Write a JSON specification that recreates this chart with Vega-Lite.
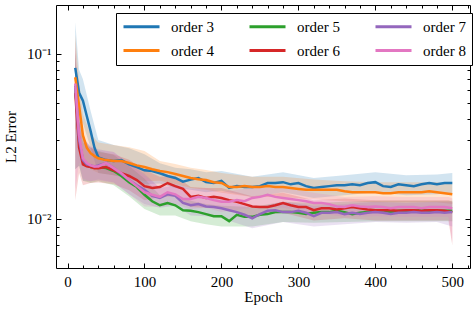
{
  "$schema": "https://vega.github.io/schema/vega-lite/v6.json",
  "width": 476,
  "height": 311,
  "autosize": {"type": "fit", "contains": "padding"},
  "padding": {"left": 3, "top": 4, "right": 5, "bottom": 7},
  "config": {
    "view": {"stroke": "black", "strokeWidth": 1},
    "font": "Liberation Serif",
    "axis": {"labelFont": "Liberation Serif", "titleFont": "Liberation Serif", "labelFontSize": 15, "titleFontSize": 15, "titleFontWeight": "normal", "labelColor": "black", "titleColor": "black", "domain": false, "tickColor": "black", "tickWidth": 1, "grid": false, "labelOverlap": false, "labelFlush": false},
    "legend": {"labelFont": "Liberation Serif", "labelFontSize": 15, "labelColor": "black", "labelFontWeight": "normal", "labelLimit": 0}
  },
  "datasets": {
    "bands": [
      {"e":10,"s":"order 3","lo":0.045,"hi":0.155},{"e":15,"s":"order 3","lo":0.040,"hi":0.080},{"e":20,"s":"order 3","lo":0.038,"hi":0.070},{"e":30,"s":"order 3","lo":0.027,"hi":0.045},{"e":40,"s":"order 3","lo":0.019,"hi":0.030},{"e":60,"s":"order 3","lo":0.0184,"hi":0.028},{"e":80,"s":"order 3","lo":0.0175,"hi":0.0268},{"e":100,"s":"order 3","lo":0.0162,"hi":0.0246},{"e":120,"s":"order 3","lo":0.0164,"hi":0.0217},{"e":140,"s":"order 3","lo":0.0154,"hi":0.0204},{"e":160,"s":"order 3","lo":0.015,"hi":0.020},{"e":180,"s":"order 3","lo":0.0145,"hi":0.0192},{"e":200,"s":"order 3","lo":0.0148,"hi":0.0195},{"e":240,"s":"order 3","lo":0.0136,"hi":0.018},{"e":280,"s":"order 3","lo":0.0145,"hi":0.0192},{"e":320,"s":"order 3","lo":0.0134,"hi":0.0177},{"e":360,"s":"order 3","lo":0.0139,"hi":0.0184},{"e":400,"s":"order 3","lo":0.0145,"hi":0.0192},{"e":440,"s":"order 3","lo":0.0139,"hi":0.0184},{"e":480,"s":"order 3","lo":0.0141,"hi":0.0186},{"e":500,"s":"order 3","lo":0.0143,"hi":0.019},
      {"e":10,"s":"order 4","lo":0.035,"hi":0.13},{"e":15,"s":"order 4","lo":0.034,"hi":0.068},{"e":20,"s":"order 4","lo":0.024,"hi":0.043},{"e":30,"s":"order 4","lo":0.020,"hi":0.0325},{"e":40,"s":"order 4","lo":0.019,"hi":0.029},{"e":60,"s":"order 4","lo":0.0184,"hi":0.028},{"e":80,"s":"order 4","lo":0.0179,"hi":0.0272},{"e":100,"s":"order 4","lo":0.0169,"hi":0.0258},{"e":120,"s":"order 4","lo":0.017,"hi":0.0224},{"e":140,"s":"order 4","lo":0.0163,"hi":0.0215},{"e":160,"s":"order 4","lo":0.0154,"hi":0.0204},{"e":180,"s":"order 4","lo":0.015,"hi":0.0198},{"e":200,"s":"order 4","lo":0.0144,"hi":0.019},{"e":240,"s":"order 4","lo":0.0136,"hi":0.018},{"e":280,"s":"order 4","lo":0.0136,"hi":0.018},{"e":320,"s":"order 4","lo":0.0131,"hi":0.0173},{"e":360,"s":"order 4","lo":0.0128,"hi":0.0169},{"e":400,"s":"order 4","lo":0.0126,"hi":0.0167},{"e":440,"s":"order 4","lo":0.0126,"hi":0.0167},{"e":480,"s":"order 4","lo":0.0126,"hi":0.0167},{"e":500,"s":"order 4","lo":0.0123,"hi":0.0162},
      {"e":10,"s":"order 5","lo":0.02,"hi":0.10},{"e":15,"s":"order 5","lo":0.021,"hi":0.042},{"e":20,"s":"order 5","lo":0.017,"hi":0.031},{"e":30,"s":"order 5","lo":0.0165,"hi":0.027},{"e":40,"s":"order 5","lo":0.0169,"hi":0.0258},{"e":60,"s":"order 5","lo":0.016,"hi":0.0244},{"e":80,"s":"order 5","lo":0.0137,"hi":0.0209},{"e":100,"s":"order 5","lo":0.0115,"hi":0.0175},{"e":120,"s":"order 5","lo":0.0105,"hi":0.0139},{"e":140,"s":"order 5","lo":0.0105,"hi":0.0139},{"e":160,"s":"order 5","lo":0.0097,"hi":0.0129},{"e":180,"s":"order 5","lo":0.0093,"hi":0.0123},{"e":200,"s":"order 5","lo":0.009,"hi":0.012},{"e":240,"s":"order 5","lo":0.009,"hi":0.0118},{"e":280,"s":"order 5","lo":0.0096,"hi":0.0127},{"e":320,"s":"order 5","lo":0.0095,"hi":0.0125},{"e":360,"s":"order 5","lo":0.0096,"hi":0.0127},{"e":400,"s":"order 5","lo":0.0097,"hi":0.0129},{"e":440,"s":"order 5","lo":0.0097,"hi":0.0129},{"e":480,"s":"order 5","lo":0.0097,"hi":0.0129},{"e":500,"s":"order 5","lo":0.0097,"hi":0.0129},
      {"e":10,"s":"order 6","lo":0.013,"hi":0.11},{"e":15,"s":"order 6","lo":0.019,"hi":0.038},{"e":20,"s":"order 6","lo":0.016,"hi":0.029},{"e":30,"s":"order 6","lo":0.0165,"hi":0.027},{"e":40,"s":"order 6","lo":0.0166,"hi":0.0254},{"e":60,"s":"order 6","lo":0.0162,"hi":0.0246},{"e":80,"s":"order 6","lo":0.0149,"hi":0.0228},{"e":100,"s":"order 6","lo":0.013,"hi":0.0198},{"e":120,"s":"order 6","lo":0.0136,"hi":0.018},{"e":140,"s":"order 6","lo":0.0137,"hi":0.0182},{"e":160,"s":"order 6","lo":0.0118,"hi":0.0156},{"e":180,"s":"order 6","lo":0.0117,"hi":0.0154},{"e":200,"s":"order 6","lo":0.0117,"hi":0.0154},{"e":240,"s":"order 6","lo":0.0104,"hi":0.0137},{"e":280,"s":"order 6","lo":0.0109,"hi":0.0144},{"e":320,"s":"order 6","lo":0.0098,"hi":0.013},{"e":360,"s":"order 6","lo":0.0101,"hi":0.0133},{"e":400,"s":"order 6","lo":0.0098,"hi":0.013},{"e":440,"s":"order 6","lo":0.0098,"hi":0.013},{"e":480,"s":"order 6","lo":0.0098,"hi":0.013},{"e":495,"s":"order 6","lo":0.0098,"hi":0.013},{"e":500,"s":"order 6","lo":0.0069,"hi":0.0127},
      {"e":10,"s":"order 7","lo":0.02,"hi":0.10},{"e":15,"s":"order 7","lo":0.021,"hi":0.042},{"e":20,"s":"order 7","lo":0.017,"hi":0.031},{"e":30,"s":"order 7","lo":0.0169,"hi":0.0274},{"e":40,"s":"order 7","lo":0.0173,"hi":0.0264},{"e":60,"s":"order 7","lo":0.0166,"hi":0.0254},{"e":80,"s":"order 7","lo":0.0141,"hi":0.0215},{"e":100,"s":"order 7","lo":0.0123,"hi":0.0188},{"e":120,"s":"order 7","lo":0.0117,"hi":0.0154},{"e":140,"s":"order 7","lo":0.012,"hi":0.0159},{"e":160,"s":"order 7","lo":0.0105,"hi":0.0139},{"e":180,"s":"order 7","lo":0.0104,"hi":0.0137},{"e":200,"s":"order 7","lo":0.0101,"hi":0.0133},{"e":240,"s":"order 7","lo":0.0088,"hi":0.0116},{"e":280,"s":"order 7","lo":0.0096,"hi":0.0127},{"e":320,"s":"order 7","lo":0.009,"hi":0.012},{"e":360,"s":"order 7","lo":0.0093,"hi":0.0123},{"e":400,"s":"order 7","lo":0.0096,"hi":0.0127},{"e":440,"s":"order 7","lo":0.0095,"hi":0.0125},{"e":480,"s":"order 7","lo":0.0096,"hi":0.0127},{"e":500,"s":"order 7","lo":0.009,"hi":0.0127},
      {"e":10,"s":"order 8","lo":0.015,"hi":0.12},{"e":15,"s":"order 8","lo":0.022,"hi":0.045},{"e":20,"s":"order 8","lo":0.0175,"hi":0.031},{"e":30,"s":"order 8","lo":0.0169,"hi":0.0274},{"e":40,"s":"order 8","lo":0.017,"hi":0.026},{"e":60,"s":"order 8","lo":0.0166,"hi":0.0254},{"e":80,"s":"order 8","lo":0.0141,"hi":0.0215},{"e":100,"s":"order 8","lo":0.0119,"hi":0.0181},{"e":120,"s":"order 8","lo":0.0118,"hi":0.0156},{"e":140,"s":"order 8","lo":0.0123,"hi":0.0162},{"e":160,"s":"order 8","lo":0.0115,"hi":0.0152},{"e":180,"s":"order 8","lo":0.0117,"hi":0.0154},{"e":200,"s":"order 8","lo":0.011,"hi":0.0146},{"e":240,"s":"order 8","lo":0.0117,"hi":0.0154},{"e":280,"s":"order 8","lo":0.0117,"hi":0.0154},{"e":320,"s":"order 8","lo":0.0109,"hi":0.0144},{"e":360,"s":"order 8","lo":0.0103,"hi":0.0136},{"e":400,"s":"order 8","lo":0.0104,"hi":0.0137},{"e":440,"s":"order 8","lo":0.0103,"hi":0.0136},{"e":480,"s":"order 8","lo":0.0103,"hi":0.0136},{"e":495,"s":"order 8","lo":0.0103,"hi":0.0136},{"e":500,"s":"order 8","lo":0.0072,"hi":0.0133}
    ],
    "lines": [
      {"e":10,"s":"order 3","v":0.082},{"e":15,"s":"order 3","v":0.058},{"e":20,"s":"order 3","v":0.052},{"e":25,"s":"order 3","v":0.042},{"e":30,"s":"order 3","v":0.034},{"e":35,"s":"order 3","v":0.027},{"e":40,"s":"order 3","v":0.0236},{"e":50,"s":"order 3","v":0.0227},{"e":60,"s":"order 3","v":0.0224},{"e":70,"s":"order 3","v":0.0227},{"e":80,"s":"order 3","v":0.0214},{"e":90,"s":"order 3","v":0.0206},{"e":100,"s":"order 3","v":0.0197},{"e":110,"s":"order 3","v":0.0195},{"e":120,"s":"order 3","v":0.0189},{"e":130,"s":"order 3","v":0.0182},{"e":140,"s":"order 3","v":0.0177},{"e":150,"s":"order 3","v":0.0168},{"e":160,"s":"order 3","v":0.0173},{"e":170,"s":"order 3","v":0.0177},{"e":180,"s":"order 3","v":0.0167},{"e":190,"s":"order 3","v":0.0165},{"e":200,"s":"order 3","v":0.017},{"e":210,"s":"order 3","v":0.0154},{"e":220,"s":"order 3","v":0.0158},{"e":230,"s":"order 3","v":0.0156},{"e":240,"s":"order 3","v":0.0156},{"e":250,"s":"order 3","v":0.0158},{"e":260,"s":"order 3","v":0.0165},{"e":270,"s":"order 3","v":0.0165},{"e":280,"s":"order 3","v":0.0167},{"e":290,"s":"order 3","v":0.0162},{"e":300,"s":"order 3","v":0.0165},{"e":310,"s":"order 3","v":0.0158},{"e":320,"s":"order 3","v":0.0154},{"e":330,"s":"order 3","v":0.0156},{"e":340,"s":"order 3","v":0.0158},{"e":350,"s":"order 3","v":0.016},{"e":360,"s":"order 3","v":0.016},{"e":370,"s":"order 3","v":0.0162},{"e":380,"s":"order 3","v":0.016},{"e":390,"s":"order 3","v":0.0165},{"e":400,"s":"order 3","v":0.0167},{"e":410,"s":"order 3","v":0.0158},{"e":420,"s":"order 3","v":0.0156},{"e":430,"s":"order 3","v":0.0162},{"e":440,"s":"order 3","v":0.016},{"e":450,"s":"order 3","v":0.0158},{"e":460,"s":"order 3","v":0.0162},{"e":470,"s":"order 3","v":0.0165},{"e":480,"s":"order 3","v":0.0162},{"e":490,"s":"order 3","v":0.0165},{"e":500,"s":"order 3","v":0.0165},
      {"e":10,"s":"order 4","v":0.072},{"e":15,"s":"order 4","v":0.0485},{"e":20,"s":"order 4","v":0.032},{"e":25,"s":"order 4","v":0.027},{"e":30,"s":"order 4","v":0.025},{"e":35,"s":"order 4","v":0.024},{"e":40,"s":"order 4","v":0.0233},{"e":50,"s":"order 4","v":0.0227},{"e":60,"s":"order 4","v":0.0224},{"e":70,"s":"order 4","v":0.0224},{"e":80,"s":"order 4","v":0.0218},{"e":90,"s":"order 4","v":0.0211},{"e":100,"s":"order 4","v":0.0206},{"e":110,"s":"order 4","v":0.02},{"e":120,"s":"order 4","v":0.0195},{"e":130,"s":"order 4","v":0.0192},{"e":140,"s":"order 4","v":0.0187},{"e":150,"s":"order 4","v":0.0182},{"e":160,"s":"order 4","v":0.0177},{"e":170,"s":"order 4","v":0.0174},{"e":180,"s":"order 4","v":0.0172},{"e":190,"s":"order 4","v":0.0167},{"e":200,"s":"order 4","v":0.0165},{"e":210,"s":"order 4","v":0.0156},{"e":220,"s":"order 4","v":0.0156},{"e":230,"s":"order 4","v":0.0158},{"e":240,"s":"order 4","v":0.0156},{"e":250,"s":"order 4","v":0.0156},{"e":260,"s":"order 4","v":0.0158},{"e":270,"s":"order 4","v":0.0156},{"e":280,"s":"order 4","v":0.0156},{"e":290,"s":"order 4","v":0.0154},{"e":300,"s":"order 4","v":0.0152},{"e":310,"s":"order 4","v":0.015},{"e":320,"s":"order 4","v":0.015},{"e":330,"s":"order 4","v":0.015},{"e":340,"s":"order 4","v":0.015},{"e":350,"s":"order 4","v":0.015},{"e":360,"s":"order 4","v":0.0147},{"e":370,"s":"order 4","v":0.0145},{"e":380,"s":"order 4","v":0.0145},{"e":390,"s":"order 4","v":0.0145},{"e":400,"s":"order 4","v":0.0145},{"e":410,"s":"order 4","v":0.0143},{"e":420,"s":"order 4","v":0.0143},{"e":430,"s":"order 4","v":0.0145},{"e":440,"s":"order 4","v":0.0145},{"e":450,"s":"order 4","v":0.0145},{"e":460,"s":"order 4","v":0.0145},{"e":470,"s":"order 4","v":0.0147},{"e":480,"s":"order 4","v":0.0145},{"e":490,"s":"order 4","v":0.0143},{"e":500,"s":"order 4","v":0.0141},
      {"e":10,"s":"order 5","v":0.064},{"e":15,"s":"order 5","v":0.030},{"e":20,"s":"order 5","v":0.0227},{"e":25,"s":"order 5","v":0.0211},{"e":30,"s":"order 5","v":0.0206},{"e":35,"s":"order 5","v":0.0206},{"e":40,"s":"order 5","v":0.0206},{"e":50,"s":"order 5","v":0.0203},{"e":60,"s":"order 5","v":0.0195},{"e":70,"s":"order 5","v":0.0182},{"e":80,"s":"order 5","v":0.0167},{"e":90,"s":"order 5","v":0.0156},{"e":100,"s":"order 5","v":0.014},{"e":110,"s":"order 5","v":0.0128},{"e":120,"s":"order 5","v":0.0121},{"e":130,"s":"order 5","v":0.0125},{"e":140,"s":"order 5","v":0.0121},{"e":150,"s":"order 5","v":0.0113},{"e":160,"s":"order 5","v":0.0112},{"e":170,"s":"order 5","v":0.011},{"e":180,"s":"order 5","v":0.0107},{"e":190,"s":"order 5","v":0.0104},{"e":200,"s":"order 5","v":0.0104},{"e":210,"s":"order 5","v":0.0097},{"e":220,"s":"order 5","v":0.0106},{"e":230,"s":"order 5","v":0.0103},{"e":240,"s":"order 5","v":0.0103},{"e":250,"s":"order 5","v":0.0106},{"e":260,"s":"order 5","v":0.0107},{"e":270,"s":"order 5","v":0.011},{"e":280,"s":"order 5","v":0.011},{"e":290,"s":"order 5","v":0.011},{"e":300,"s":"order 5","v":0.0109},{"e":310,"s":"order 5","v":0.0107},{"e":320,"s":"order 5","v":0.0109},{"e":330,"s":"order 5","v":0.011},{"e":340,"s":"order 5","v":0.011},{"e":350,"s":"order 5","v":0.0112},{"e":360,"s":"order 5","v":0.011},{"e":370,"s":"order 5","v":0.0107},{"e":380,"s":"order 5","v":0.0109},{"e":390,"s":"order 5","v":0.011},{"e":400,"s":"order 5","v":0.0112},{"e":410,"s":"order 5","v":0.0113},{"e":420,"s":"order 5","v":0.011},{"e":430,"s":"order 5","v":0.0112},{"e":440,"s":"order 5","v":0.0112},{"e":450,"s":"order 5","v":0.0112},{"e":460,"s":"order 5","v":0.0113},{"e":470,"s":"order 5","v":0.0112},{"e":480,"s":"order 5","v":0.0112},{"e":490,"s":"order 5","v":0.0112},{"e":500,"s":"order 5","v":0.0112},
      {"e":10,"s":"order 6","v":0.058},{"e":15,"s":"order 6","v":0.027},{"e":20,"s":"order 6","v":0.0214},{"e":25,"s":"order 6","v":0.0208},{"e":30,"s":"order 6","v":0.0206},{"e":35,"s":"order 6","v":0.0203},{"e":40,"s":"order 6","v":0.0203},{"e":50,"s":"order 6","v":0.0206},{"e":60,"s":"order 6","v":0.0197},{"e":70,"s":"order 6","v":0.0189},{"e":80,"s":"order 6","v":0.0182},{"e":90,"s":"order 6","v":0.0172},{"e":100,"s":"order 6","v":0.0158},{"e":110,"s":"order 6","v":0.0154},{"e":120,"s":"order 6","v":0.0156},{"e":130,"s":"order 6","v":0.0165},{"e":140,"s":"order 6","v":0.0158},{"e":150,"s":"order 6","v":0.0152},{"e":160,"s":"order 6","v":0.0136},{"e":170,"s":"order 6","v":0.0138},{"e":180,"s":"order 6","v":0.0134},{"e":190,"s":"order 6","v":0.0136},{"e":200,"s":"order 6","v":0.0134},{"e":210,"s":"order 6","v":0.013},{"e":220,"s":"order 6","v":0.0127},{"e":230,"s":"order 6","v":0.0123},{"e":240,"s":"order 6","v":0.0119},{"e":250,"s":"order 6","v":0.0118},{"e":260,"s":"order 6","v":0.0118},{"e":270,"s":"order 6","v":0.0121},{"e":280,"s":"order 6","v":0.0125},{"e":290,"s":"order 6","v":0.0121},{"e":300,"s":"order 6","v":0.0118},{"e":310,"s":"order 6","v":0.0118},{"e":320,"s":"order 6","v":0.0113},{"e":330,"s":"order 6","v":0.0116},{"e":340,"s":"order 6","v":0.0116},{"e":350,"s":"order 6","v":0.0114},{"e":360,"s":"order 6","v":0.0116},{"e":370,"s":"order 6","v":0.0118},{"e":380,"s":"order 6","v":0.0116},{"e":390,"s":"order 6","v":0.0114},{"e":400,"s":"order 6","v":0.0113},{"e":410,"s":"order 6","v":0.0113},{"e":420,"s":"order 6","v":0.0113},{"e":430,"s":"order 6","v":0.0112},{"e":440,"s":"order 6","v":0.0113},{"e":450,"s":"order 6","v":0.0113},{"e":460,"s":"order 6","v":0.0112},{"e":470,"s":"order 6","v":0.0113},{"e":480,"s":"order 6","v":0.0113},{"e":490,"s":"order 6","v":0.0112},{"e":500,"s":"order 6","v":0.011},
      {"e":10,"s":"order 7","v":0.063},{"e":15,"s":"order 7","v":0.030},{"e":20,"s":"order 7","v":0.0227},{"e":25,"s":"order 7","v":0.0214},{"e":30,"s":"order 7","v":0.0211},{"e":35,"s":"order 7","v":0.0208},{"e":40,"s":"order 7","v":0.0211},{"e":50,"s":"order 7","v":0.0218},{"e":60,"s":"order 7","v":0.0203},{"e":70,"s":"order 7","v":0.0187},{"e":80,"s":"order 7","v":0.0172},{"e":90,"s":"order 7","v":0.016},{"e":100,"s":"order 7","v":0.015},{"e":110,"s":"order 7","v":0.0138},{"e":120,"s":"order 7","v":0.0134},{"e":130,"s":"order 7","v":0.0141},{"e":140,"s":"order 7","v":0.0138},{"e":150,"s":"order 7","v":0.0125},{"e":160,"s":"order 7","v":0.0121},{"e":170,"s":"order 7","v":0.0123},{"e":180,"s":"order 7","v":0.0119},{"e":190,"s":"order 7","v":0.0118},{"e":200,"s":"order 7","v":0.0116},{"e":210,"s":"order 7","v":0.0113},{"e":220,"s":"order 7","v":0.011},{"e":230,"s":"order 7","v":0.0106},{"e":240,"s":"order 7","v":0.0101},{"e":250,"s":"order 7","v":0.0107},{"e":260,"s":"order 7","v":0.0112},{"e":270,"s":"order 7","v":0.0113},{"e":280,"s":"order 7","v":0.011},{"e":290,"s":"order 7","v":0.011},{"e":300,"s":"order 7","v":0.0112},{"e":310,"s":"order 7","v":0.0109},{"e":320,"s":"order 7","v":0.0104},{"e":330,"s":"order 7","v":0.0109},{"e":340,"s":"order 7","v":0.0109},{"e":350,"s":"order 7","v":0.011},{"e":360,"s":"order 7","v":0.0107},{"e":370,"s":"order 7","v":0.0109},{"e":380,"s":"order 7","v":0.0107},{"e":390,"s":"order 7","v":0.0109},{"e":400,"s":"order 7","v":0.011},{"e":410,"s":"order 7","v":0.0109},{"e":420,"s":"order 7","v":0.0107},{"e":430,"s":"order 7","v":0.0109},{"e":440,"s":"order 7","v":0.0109},{"e":450,"s":"order 7","v":0.011},{"e":460,"s":"order 7","v":0.0109},{"e":470,"s":"order 7","v":0.0109},{"e":480,"s":"order 7","v":0.011},{"e":490,"s":"order 7","v":0.0109},{"e":500,"s":"order 7","v":0.011},
      {"e":10,"s":"order 8","v":0.066},{"e":15,"s":"order 8","v":0.032},{"e":20,"s":"order 8","v":0.0233},{"e":25,"s":"order 8","v":0.0218},{"e":30,"s":"order 8","v":0.0211},{"e":35,"s":"order 8","v":0.0208},{"e":40,"s":"order 8","v":0.0208},{"e":50,"s":"order 8","v":0.0218},{"e":60,"s":"order 8","v":0.0203},{"e":70,"s":"order 8","v":0.0189},{"e":80,"s":"order 8","v":0.0172},{"e":90,"s":"order 8","v":0.0158},{"e":100,"s":"order 8","v":0.0145},{"e":110,"s":"order 8","v":0.014},{"e":120,"s":"order 8","v":0.0136},{"e":130,"s":"order 8","v":0.0145},{"e":140,"s":"order 8","v":0.0141},{"e":150,"s":"order 8","v":0.0132},{"e":160,"s":"order 8","v":0.0132},{"e":170,"s":"order 8","v":0.0136},{"e":180,"s":"order 8","v":0.0134},{"e":190,"s":"order 8","v":0.013},{"e":200,"s":"order 8","v":0.0127},{"e":210,"s":"order 8","v":0.0127},{"e":220,"s":"order 8","v":0.013},{"e":230,"s":"order 8","v":0.0128},{"e":240,"s":"order 8","v":0.0134},{"e":250,"s":"order 8","v":0.0136},{"e":260,"s":"order 8","v":0.014},{"e":270,"s":"order 8","v":0.0136},{"e":280,"s":"order 8","v":0.0134},{"e":290,"s":"order 8","v":0.0132},{"e":300,"s":"order 8","v":0.013},{"e":310,"s":"order 8","v":0.0128},{"e":320,"s":"order 8","v":0.0125},{"e":330,"s":"order 8","v":0.0125},{"e":340,"s":"order 8","v":0.0123},{"e":350,"s":"order 8","v":0.0119},{"e":360,"s":"order 8","v":0.0118},{"e":370,"s":"order 8","v":0.0121},{"e":380,"s":"order 8","v":0.0119},{"e":390,"s":"order 8","v":0.0118},{"e":400,"s":"order 8","v":0.0119},{"e":410,"s":"order 8","v":0.0118},{"e":420,"s":"order 8","v":0.0116},{"e":430,"s":"order 8","v":0.0118},{"e":440,"s":"order 8","v":0.0118},{"e":450,"s":"order 8","v":0.0118},{"e":460,"s":"order 8","v":0.0116},{"e":470,"s":"order 8","v":0.0118},{"e":480,"s":"order 8","v":0.0118},{"e":490,"s":"order 8","v":0.0118},{"e":500,"s":"order 8","v":0.0116}
    ]
  },
  "layer": [
    {
      "data": {"name": "bands"},
      "mark": {"type": "area", "opacity": 0.2, "clip": true},
      "encoding": {
        "x": {"field": "e", "type": "quantitative", "scale": {"domain": [-15, 523], "nice": false, "zero": false},
          "axis": {"orient": "bottom", "title": "Epoch", "values": [0,100,200,300,400,500], "tickSize": 5, "offset": -5, "labelPadding": 6, "titlePadding": 0}},
        "y": {"field": "lo", "type": "quantitative", "scale": {"type": "log", "domain": [0.00505, 0.197], "nice": false},
          "axis": {"orient": "left", "title": "L2 Error", "values": [0.01, 0.1],
            "labelExpr": "datum.value > 0.05 ? '10⁻¹' : '10⁻²'",
            "tickSize": 5, "offset": -5, "labelPadding": 5, "titlePadding": 8}},
        "y2": {"field": "hi"},
        "color": {"field": "s", "type": "nominal", "legend": null,
          "scale": {"domain": ["order 3","order 4","order 5","order 6","order 7","order 8"], "range": ["#1f77b4","#ff7f0e","#2ca02c","#d62728","#9467bd","#e377c2"]}}
      }
    },
    {
      "data": {"name": "lines"},
      "mark": {"type": "line", "strokeWidth": 2.5, "clip": true},
      "encoding": {
        "x": {"field": "e", "type": "quantitative", "scale": {"domain": [-15, 523], "nice": false, "zero": false},
          "axis": {"orient": "top", "title": null, "labels": false, "values": [0,100,200,300,400,500], "tickSize": 5, "offset": -5}},
        "y": {"field": "v", "type": "quantitative", "scale": {"type": "log", "domain": [0.00505, 0.197], "nice": false},
          "axis": {"orient": "right", "title": null, "labels": false, "values": [0.01, 0.1], "tickSize": 5, "offset": -5}},
        "color": {"field": "s", "type": "nominal",
          "scale": {"domain": ["order 3","order 4","order 5","order 6","order 7","order 8"], "range": ["#1f77b4","#ff7f0e","#2ca02c","#d62728","#9467bd","#e377c2"]},
          "legend": {"orient": "none", "legendX": 60, "legendY": 8, "columns": 3, "title": null, "symbolType": "M-1,0H5", "symbolSize": 144, "symbolStrokeWidth": 3,
            "labelFont": "Liberation Serif", "labelFontSize": 15, "labelColor": "black", "labelOffset": 34, "columnPadding": 29, "rowPadding": 8, "padding": 6,
            "strokeColor": "black", "fillColor": "white", "cornerRadius": 0}},
        "order": {"field": "e"}
      }
    },
    {
      "data": {"name": "lines"},
      "mark": {"type": "point", "opacity": 0, "size": 1},
      "encoding": {
        "x": {"field": "e", "type": "quantitative", "scale": {"domain": [-15, 523], "nice": false, "zero": false},
          "axis": {"orient": "bottom", "title": null, "labels": false, "values": [20,40,60,80,120,140,160,180,220,240,260,280,320,340,360,380,420,440,460,480,520], "tickSize": 3, "offset": -3}},
        "y": {"field": "v", "type": "quantitative", "scale": {"type": "log", "domain": [0.00505, 0.197], "nice": false},
          "axis": {"orient": "left", "title": null, "labels": false, "values": [0.006,0.007,0.008,0.009,0.02,0.03,0.04,0.05,0.06,0.07,0.08,0.09], "tickSize": 3, "offset": -3}}
      }
    },
    {
      "data": {"name": "lines"},
      "mark": {"type": "point", "opacity": 0, "size": 1},
      "encoding": {
        "x": {"field": "e", "type": "quantitative", "scale": {"domain": [-15, 523], "nice": false, "zero": false},
          "axis": {"orient": "top", "title": null, "labels": false, "values": [20,40,60,80,120,140,160,180,220,240,260,280,320,340,360,380,420,440,460,480,520], "tickSize": 3, "offset": -3}},
        "y": {"field": "v", "type": "quantitative", "scale": {"type": "log", "domain": [0.00505, 0.197], "nice": false},
          "axis": {"orient": "right", "title": null, "labels": false, "values": [0.006,0.007,0.008,0.009,0.02,0.03,0.04,0.05,0.06,0.07,0.08,0.09], "tickSize": 3, "offset": -3}}
      }
    }
  ],
  "resolve": {"axis": {"x": "independent", "y": "independent"}, "scale": {"color": "independent"}, "legend": {"color": "independent"}}
}
